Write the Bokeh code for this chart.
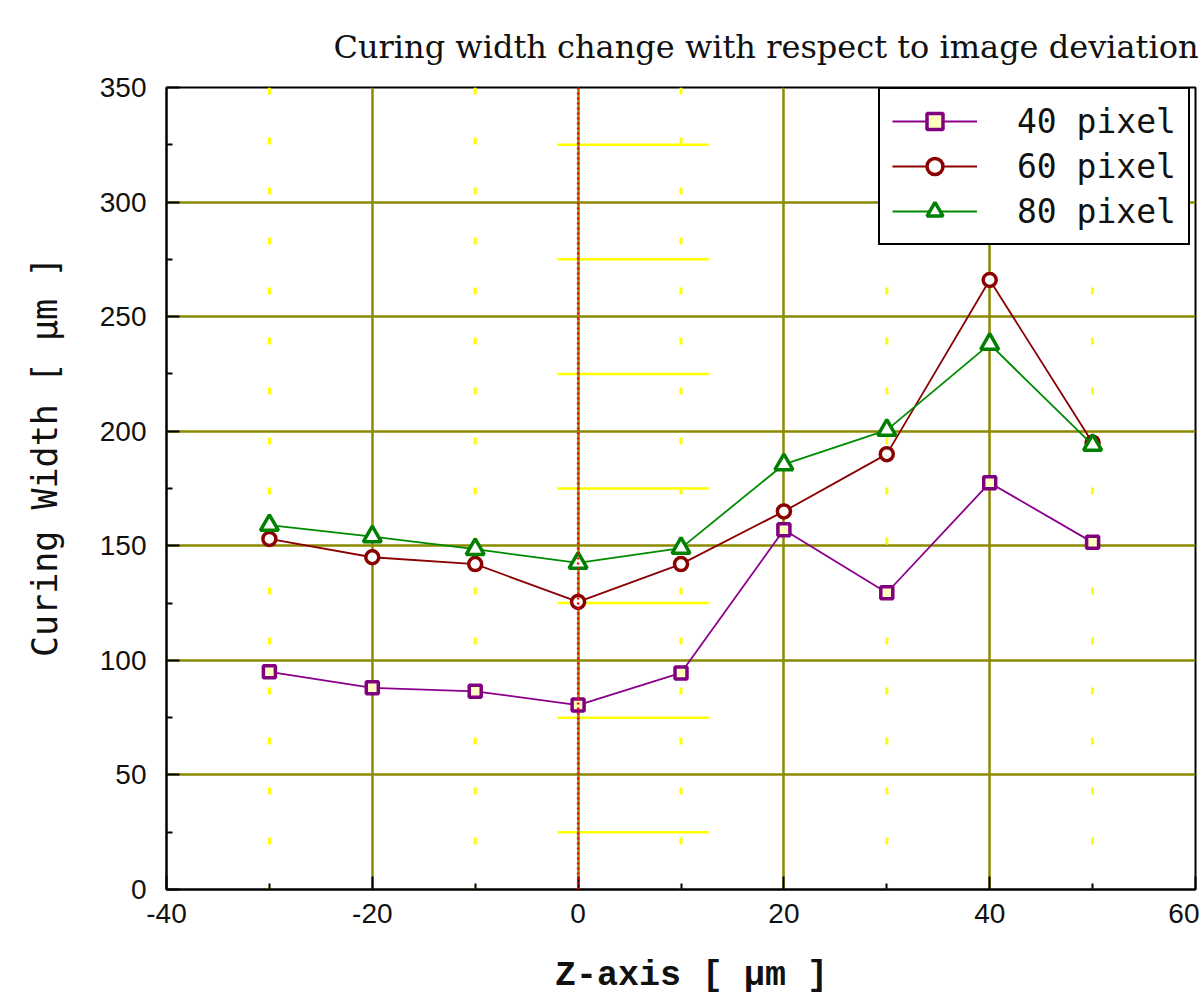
from bokeh.plotting import figure
from bokeh.models import Range1d, Legend, LegendItem, FixedTicker, Span
from bokeh.embed import file_html
from bokeh.resources import INLINE

z_axis = [-30, -20, -10, 0, 10, 20, 30, 40, 50]
w40 = [95, 88, 86.5, 80.5, 94.5, 157, 129.5, 177.5, 151.5]
w60 = [153, 145, 142, 125.5, 142, 165, 190, 266, 195]
w80 = [159, 154, 148.5, 142.5, 149, 185.5, 200.5, 238, 194]
x_ticks = [-40, -20, 0, 20, 40, 60]
y_ticks = [0, 50, 100, 150, 200, 250, 300, 350]
minor_y = [25, 75, 125, 175, 225, 275, 325]
minor_x = [-30, -10, 10, 30, 50]

p = figure(width=1199, height=1000, output_backend="svg", toolbar_location=None,
           x_range=Range1d(-40, 60), y_range=Range1d(0, 350),
           min_border_left=166, min_border_right=4, min_border_top=87, min_border_bottom=111,
           title="Curing width change with respect to image deviation")

p.title.align = "right"
p.title.vertical_align = "top"
p.title.text_line_height = 0.4
p.title.text_font = "DejaVu Serif"
p.title.text_font_size = "32px"
p.title.text_font_style = "normal"
p.title.text_color = "#111111"
p.title.standoff = 40
p.title.offset = -3

p.outline_line_color = "black"
p.outline_line_width = 2
p.outline_line_alpha = 1.0

# grids
p.xgrid.ticker = FixedTicker(ticks=[-20, 0, 20, 40])
p.ygrid.ticker = FixedTicker(ticks=[50, 100, 150, 200, 250, 300])
for g in (p.xgrid, p.ygrid):
    g.grid_line_color = "#8c8a00"
    g.grid_line_width = 2.5
    g.grid_line_alpha = 1.0

for mx in minor_x:
    p.add_layout(Span(location=mx, dimension="height", line_color="#ffff00",
                      line_width=3, line_dash="7 43", level="underlay"))

p.segment(x0=[-2] * len(minor_y), y0=minor_y, x1=[12.7] * len(minor_y), y1=minor_y,
          line_color="#ffff00", line_width=2.5, level="underlay")

p.add_layout(Span(location=0, dimension="height", line_color="#ff0000",
                  line_width=2.5, line_dash="2 3"))

# axes
for ax in (p.xaxis[0], p.yaxis[0]):
    ax.axis_line_color = "black"
    ax.axis_line_width = 2
    ax.major_tick_line_color = "black"
    ax.minor_tick_line_color = "black"
    ax.major_tick_line_width = 2
    ax.minor_tick_line_width = 2
    ax.major_tick_in = 13
    ax.major_tick_out = 0
    ax.minor_tick_in = 6
    ax.minor_tick_out = 0
    ax.major_label_text_font = "Liberation Sans"
    ax.major_label_text_font_size = "28px"
    ax.major_label_text_color = "#111111"

p.xaxis.ticker = FixedTicker(ticks=x_ticks, minor_ticks=minor_x)
p.yaxis.ticker = FixedTicker(ticks=y_ticks, minor_ticks=minor_y)
p.xaxis.major_label_overrides = {t: str(t) for t in x_ticks}
p.xaxis.major_label_standoff = 14
p.yaxis.major_label_standoff = 20

p.xaxis.axis_label = "\u00a0Z-axis [ \u00b5m ]"
p.xaxis.axis_label_text_font = "Liberation Mono"
p.xaxis.axis_label_text_font_style = "bold"
p.xaxis.axis_label_text_font_size = "35px"
p.xaxis.axis_label_text_color = "#111111"
p.xaxis.axis_label_standoff = 30

p.yaxis.axis_label = "\u00a0\u00a0\u00a0Curing Width [ \u00b5m ]"
p.yaxis.axis_label_text_font = "DejaVu Sans Mono"
p.yaxis.axis_label_text_font_style = "normal"
p.yaxis.axis_label_text_font_size = "35px"
p.yaxis.axis_label_text_color = "#111111"
p.yaxis.axis_label_standoff = 32

# series
l40 = p.line(z_axis, w40, line_color="#8b008b", line_width=1.8)
m40 = p.scatter(z_axis, w40, marker="square", size=12, line_color="#800080",
                line_width=3.5, fill_color="#ffffc0")
l60 = p.line(z_axis, w60, line_color="#8b0000", line_width=1.8)
m60 = p.scatter(z_axis, w60, marker="circle", size=13, line_color="#8b0000",
                line_width=3.5, fill_color="white")
l80 = p.line(z_axis, w80, line_color="#008a00", line_width=1.8)
m80 = p.scatter(z_axis, w80, marker="triangle", size=18, line_color="#008000",
                line_width=3.5, fill_color="white")

legend = Legend(items=[
    LegendItem(label="40 pixel", renderers=[l40, m40]),
    LegendItem(label="60 pixel", renderers=[l60, m60]),
    LegendItem(label="80 pixel", renderers=[l80, m80]),
], location=(712, 644))
legend.margin = 0
legend.border_line_color = "black"
legend.border_line_width = 2.5
legend.border_line_alpha = 1.0
legend.background_fill_color = "white"
legend.background_fill_alpha = 1.0
legend.label_text_font = "DejaVu Sans Mono"
legend.label_text_font_size = "33px"
legend.label_text_color = "#111111"
legend.glyph_width = 85
legend.glyph_height = 40
legend.label_height = 40
legend.label_standoff = 40
legend.spacing = 5
legend.padding = 12
p.add_layout(legend)

open("out.html", "w").write(file_html(p, INLINE))
